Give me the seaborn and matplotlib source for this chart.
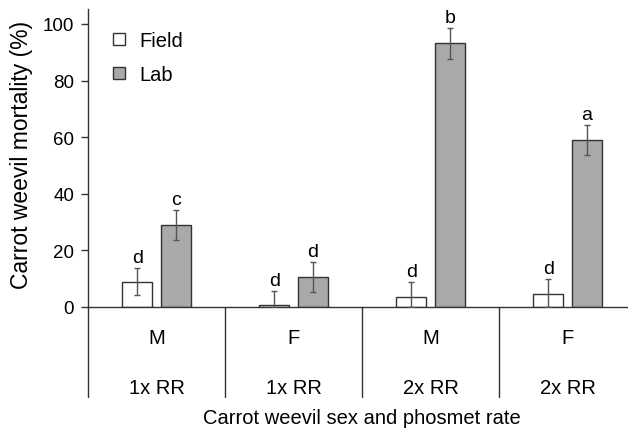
import numpy as np
import pandas as pd
import matplotlib.pyplot as plt
import seaborn as sns

# Data
sex = ['M', 'F', 'M', 'F']
rate = ['1x RR', '1x RR', '2x RR', '2x RR']
groups = ['M 1x RR', 'F 1x RR', 'M 2x RR', 'F 2x RR']
field_mean = [9.0, 0.8, 3.6, 4.7]
field_se = [4.8, 5.0, 5.3, 5.2]
lab_mean = [29.0, 10.6, 93.2, 59.0]
lab_se = [5.4, 5.3, 5.4, 5.3]
field_letters = ['d', 'd', 'd', 'd']
lab_letters = ['c', 'd', 'b', 'a']

df = pd.DataFrame({
    'group': groups * 2,
    'cond': ['Field'] * 4 + ['Lab'] * 4,
    'mortality': field_mean + lab_mean,
})

sns.set_style('ticks')
plt.rcParams['font.family'] = ['Liberation Sans', 'DejaVu Sans']
plt.rcParams['text.color'] = 'black'
plt.rcParams['axes.labelcolor'] = 'black'
plt.rcParams['ytick.labelcolor'] = 'black'
fs = 14.5

fig = plt.figure(figsize=(6.28, 4.31), dpi=100)
ax = fig.add_axes([88 / 628, 1 - 308 / 431, 548 / 628, 298 / 431])

sns.barplot(data=df, x='group', y='mortality', hue='cond', order=groups,
            hue_order=['Field', 'Lab'], palette={'Field': 'white', 'Lab': '#a9a9a9'},
            width=0.56, gap=0.21, edgecolor='#333333', linewidth=1,
            errorbar=None, ax=ax)

# error bars and letters on top of each bar
means = field_mean + lab_mean
ses = field_se + lab_se
letters = field_letters + lab_letters
bars = ax.patches[:8]
for p, m, s, let in zip(bars, means, ses, letters):
    xc = p.get_x() + p.get_width() / 2
    lo = min(s, m)
    ax.errorbar(xc, m, yerr=[[lo], [s]], color='#555555', lw=1,
                capsize=2.5, capthick=1, zorder=3)
    ax.text(xc, m + s + 2, let, ha='center', va='baseline', fontsize=14)

ax.set_xlim(-0.5, 3.5)
ax.set_ylim(0, 105.3)
ax.set_yticks([0, 20, 40, 60, 80, 100])
ax.set_xticks([])
ax.set_xlabel('')
ax.set_ylabel('Carrot weevil mortality (%)', fontsize=16.5)
ax.yaxis.set_label_coords(-0.1, 0.513)
ax.tick_params(axis='y', length=5, width=1, color='#333333', labelsize=13.5,
               labelcolor='black', pad=5)
for side in ['top', 'right']:
    ax.spines[side].set_visible(False)
for side in ['left', 'bottom']:
    ax.spines[side].set_color('#333333')
    ax.spines[side].set_linewidth(1)

# category table under the axis
trans = ax.get_xaxis_transform()
for x in [-0.5, 0.5, 1.5, 2.5]:
    ax.plot([x, x], [0, -90 / 298], transform=trans, color='#333333',
            lw=1, clip_on=False)
for i in range(4):
    ax.text(i, -31 / 298, sex[i], transform=trans, ha='center', va='center', fontsize=fs)
    ax.text(i, -80 / 298, rate[i], transform=trans, ha='center', va='center', fontsize=fs)
ax.text(1.5, -110 / 298, 'Carrot weevil sex and phosmet rate', transform=trans,
        ha='center', va='center', fontsize=fs)

leg = ax.legend(loc='upper left', bbox_to_anchor=(0.0456, 0.926), borderaxespad=0,
                borderpad=0, frameon=False, handlelength=0.6, handleheight=0.6,
                handletextpad=0.7, labelspacing=0.75, fontsize=fs)

fig.savefig('out.png', dpi=100)
